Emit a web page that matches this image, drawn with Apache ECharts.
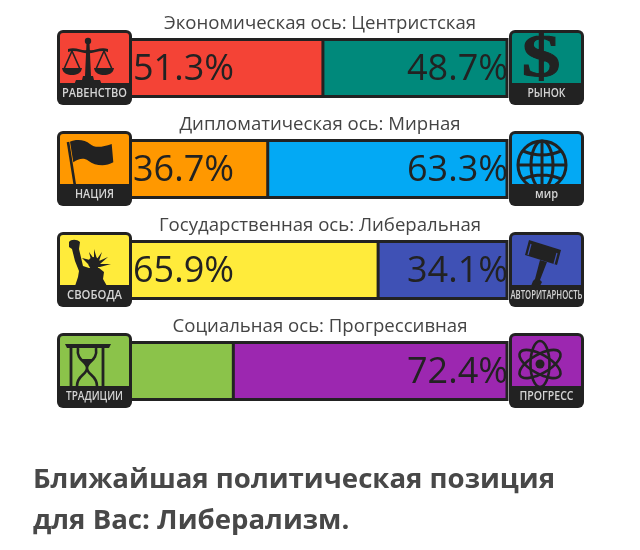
<!DOCTYPE html>
<html><head><meta charset="utf-8">
<style>html,body{margin:0;padding:0;background:#fff}#c{width:640px;height:550px}</style>
<script src="https://cdn.jsdelivr.net/npm/echarts@6/dist/echarts.min.js"></script>
</head><body><div id="c"></div>
<script>
const axisTitles = ['Экономическая ось: Центристская','Дипломатическая ось: Мирная','Государственная ось: Либеральная','Социальная ось: Прогрессивная'];
const leftValues = [51.3, 36.7, 65.9, 27.6];
const rightValues = [48.7, 63.3, 34.1, 72.4];
const hideBelow = 30;
const leftColors = ['#f44336','#ff9800','#ffeb3b','#8bc34a'];
const rightColors = ['#00897b','#03a9f4','#3f51b5','#9c27b0'];
const leftNames = ['РАВЕНСТВО','НАЦИЯ','СВОБОДА','ТРАДИЦИИ'];
const rightNames = ['РЫНОК','мир','АВТОРИТАРНОСТЬ','ПРОГРЕСС'];
const footerLines = ['Ближайшая политическая позиция','для Вас: Либерализм.'];

const DARK = '#222';
const FONT = '"Open Sans", sans-serif';
const rowCenter = [68, 169, 270, 371];
const BAR_H = 57;
const nameWidth = {'РАВЕНСТВО':65,'НАЦИЯ':39,'СВОБОДА':55,'ТРАДИЦИИ':57,'РЫНОК':38,'мир':23,'АВТОРИТАРНОСТЬ':72,'ПРОГРЕСС':54};
const ctx = document.createElement('canvas').getContext('2d');
ctx.font = '600 12px "Open Sans"';

let shapeCount = 0;
function shapeOf(d) {
  const name = 'glyph' + (shapeCount++);
  echarts.graphic.registerShape(name, echarts.graphic.extendPath(d));
  return name;
}
const fill = (d, z) => ({type:shapeOf(d), z, style:{fill:DARK}});
const line = (d, w, z, c) => ({type:shapeOf(d), z, style:{fill:'none', stroke:c||DARK, lineWidth:w}});
const ell = (rx, ry, rot, z) => ({type:'ellipse', z, x:31, y:31, rotation:rot, shape:{cx:0,cy:0,rx,ry}, style:{fill:'none', stroke:DARK, lineWidth:2.6}});

const glyphs = {
  'РАВЕНСТВО': z => [
    {type:'circle', z, shape:{cx:31,cy:11,r:3.2}, style:{fill:DARK}},
    fill('M29.5,13 L32.5,13 L34,46 L36,46 L37,50 L43,50 L45,55 L17,55 L19,50 L25,50 L26,46 L28,46Z', z),
    fill('M11,19 C19,16 26,22 31,19.5 C36,22 43,16 51,19 L51,22 C43,19 36,24.5 31,23 C26,24.5 19,19 11,22Z', z),
    line('M15,21 L7,39 M15,21 L23,39 M47,21 L39,39 M47,21 L55,39', 1.6, z),
    fill('M5,38 L25,38 C24,44 19,45 15,45 C11,45 6,44 5,38Z', z),
    fill('M37,38 L57,38 C56,44 51,45 47,45 C43,45 38,44 37,38Z', z)
  ],
  'РЫНОК': z => [
    {type:'text', z, x:32, y:30, scaleX:1.25, style:{text:'$', font:'bold 62px "Liberation Serif"', fill:DARK, stroke:DARK, lineWidth:1, align:'center', verticalAlign:'middle'}}
  ],
  'НАЦИЯ': z => [
    line('M11,11 L18,55', 2.6, z),
    fill('M13,10.7 C18,8 28,8 33,13 C38,17.3 45,16.3 54.7,13 L56.3,31.3 C48,36.3 38,34.7 31.3,29.7 C26.3,26.3 21.3,28 16.3,31.3Z', z)
  ],
  'мир': z => [
    {type:'circle', z, shape:{cx:33,cy:34,r:24}, style:{fill:'none',stroke:DARK,lineWidth:3}},
    {type:'ellipse', z, shape:{cx:33,cy:34,rx:11,ry:24}, style:{fill:'none',stroke:DARK,lineWidth:3}},
    line('M33,10 L33,58 M9,34 L57,34 M14,20 Q33,28 52,20 M14,48 Q33,40 52,48', 3, z)
  ],
  'СВОБОДА': z => [
    fill('M12,10 C14,7 20,7 23,10 L22,17 L26,34 L32,36 L42,36 L47,40 L46,47 L50,54 L18,54 L21,45 L22,39 L18,29 L15,17 L12,15Z', z),
    {type:'circle', z, shape:{cx:37,cy:31,r:6}, style:{fill:DARK}},
    fill('M34,28 L32,20 L37,27 L37,17 L40,27 L45,20 L42,29 L51,25 L43,32 L54,32 L43,35 L36,35Z', z),
    fill('M31,32 L25,26 L33,28Z', z)
  ],
  'АВТОРИТАРНОСТЬ': z => [
    fill('M20,8 L52,18 L48,33 L16,23Z', z),
    line('M22,12 L19,23 M48,21 L45,32', 1.2, z, '#3f51b5'),
    fill('M31,28 L38,30 L31,48 L33,50 L31,54 L22,54 L24,49 L26,47Z', z)
  ],
  'ТРАДИЦИИ': z => [
    fill('M8,11 L54,11 L52,15 L10,15Z', z),
    line('M14,15 L14,53 M46,15 L46,53', 2.8, z),
    line('M21,15 C19,28 30,28 30,35 C30,42 20,42 20,53 M39,15 C41,28 30,28 30,35 C30,42 40,42 40,53', 2.6, z),
    fill('M24,26 L36,26 L30,34Z', z)
  ],
  'ПРОГРЕСС': z => [
    ell(23, 9.5, 0.52, z), ell(23, 9.5, -0.52, z), ell(23, 9.5, Math.PI/2, z),
    {type:'circle', z, shape:{cx:31,cy:31,r:4.5}, style:{fill:DARK}}
  ]
};

function icon(name, color, x, y) {
  const z = 20;
  const scale = nameWidth[name] / ctx.measureText(name).width;
  return {type:'group', x, y, children:[
    {type:'rect', z, shape:{x:0,y:0,width:75,height:75,r:6}, style:{fill:DARK}},
    {type:'rect', z:z+1, shape:{x:3,y:3,width:69,height:50,r:[3,3,0,0]}, style:{fill:color}},
    ...glyphs[name](z+2),
    {type:'text', z:z+2, x:37.5, y:63.5, scaleX:scale, style:{text:name, font:'600 12px "Open Sans"', fill:'#d4d4d4', align:'center', verticalAlign:'middle'}}
  ]};
}

const graphics = [];
rowCenter.forEach((cy, i) => {
  graphics.push({type:'text', z:5, x:320, y:cy-44, style:{text:axisTitles[i], font:'18.6px "Open Sans"', fill:'#444', align:'center', verticalAlign:'middle'}});
  graphics.push(icon(leftNames[i], leftColors[i], 57, cy-38));
  graphics.push(icon(rightNames[i], rightColors[i], 509, cy-38));
});
footerLines.forEach((t, i) => {
  graphics.push({type:'text', z:5, x:33, y:480+i*41, style:{text:t, font:'bold 27.6px "Open Sans"', fill:'#484848', align:'left', verticalAlign:'middle'}});
});

const mk = (vals, colors, pos, dist) => ({
  type:'bar', stack:'a', barWidth:BAR_H, silent:true, animation:false,
  data: vals.map((v,i) => ({value:v, itemStyle:{color:colors[i]}, label:{show: v >= hideBelow}})),
  label:{position:pos, distance:dist, offset:[0,2], formatter:p=>p.value.toFixed(1)+'%', fontFamily:FONT, fontSize:36, color:DARK}
});

// frame and divider, placed through the same axes as the bars
const frames = {
  type:'custom', silent:true, animation:false, z:3,
  data: leftValues.map((v,i)=>[v,i]),
  encode:{x:0,y:1},
  renderItem:(params, api) => {
    const div = api.coord([api.value(0), api.value(1)]);
    const a = api.coord([0, api.value(1)]);
    const b = api.coord([100, api.value(1)]);
    const st = {fill:'none', stroke:DARK, lineWidth:3};
    return {type:'group', children:[
      {type:'rect', shape:{x:a[0], y:a[1]-BAR_H/2, width:b[0]-a[0], height:BAR_H}, style:st},
      {type:'line', shape:{x1:div[0], y1:a[1]-BAR_H/2, x2:div[0], y2:a[1]+BAR_H/2}, style:st}
    ]};
  }
};

const chart = echarts.init(document.getElementById('c'), null, {renderer:'canvas'});
chart.setOption({
  animation:false,
  backgroundColor:'#fff',
  grid:{left:129, top:17.5, width:378, height:404, containLabel:false},
  xAxis:{type:'value', min:0, max:100, show:false},
  yAxis:{type:'category', inverse:true, data:axisTitles, show:false},
  series:[mk(leftValues,leftColors,'insideLeft',4), mk(rightValues,rightColors,'insideRight',-1), frames],
  graphic:{elements:graphics}
});
</script></body></html>
